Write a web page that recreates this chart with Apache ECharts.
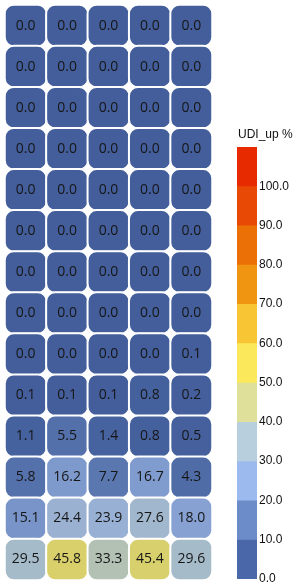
<!DOCTYPE html>
<html>
<head>
<meta charset="utf-8">
<script src="https://cdn.jsdelivr.net/npm/echarts@6/dist/echarts.min.js"></script>
<style>
html,body{margin:0;padding:0;background:#fff;}
#chart{width:298px;height:586px;}
</style>
</head>
<body>
<div id="chart"></div>
<script>
// ---- data ----
const columns = ['C1', 'C2', 'C3', 'C4', 'C5'];
const rows = ['R1','R2','R3','R4','R5','R6','R7','R8','R9','R10','R11','R12','R13','R14'];
const values = [
  [0.0, 0.0, 0.0, 0.0, 0.0],
  [0.0, 0.0, 0.0, 0.0, 0.0],
  [0.0, 0.0, 0.0, 0.0, 0.0],
  [0.0, 0.0, 0.0, 0.0, 0.0],
  [0.0, 0.0, 0.0, 0.0, 0.0],
  [0.0, 0.0, 0.0, 0.0, 0.0],
  [0.0, 0.0, 0.0, 0.0, 0.0],
  [0.0, 0.0, 0.0, 0.0, 0.0],
  [0.0, 0.0, 0.0, 0.0, 0.1],
  [0.1, 0.1, 0.1, 0.8, 0.2],
  [1.1, 5.5, 1.4, 0.8, 0.5],
  [5.8, 16.2, 7.7, 16.7, 4.3],
  [15.1, 24.4, 23.9, 27.6, 18.0],
  [29.5, 45.8, 33.3, 45.4, 29.6]
];
const legendTitle = 'UDI_up %';
const legendBounds = [0, 10, 20, 30, 40, 50, 60, 70, 80, 90, 100, 110];
const palette = ['#4a67aa', '#6b8cc8', '#9dbaee', '#b8cfdd', '#dfe09a', '#fbe85b',
                 '#f8c535', '#f09512', '#eb7005', '#e84a05', '#e82a00'];

// ---- build ----
function darken(hex, f) {
  const n = parseInt(hex.slice(1), 16);
  const r = Math.round(((n >> 16) & 255) * f);
  const g = Math.round(((n >> 8) & 255) * f);
  const b = Math.round((n & 255) * f);
  return 'rgb(' + r + ',' + g + ',' + b + ')';
}
const cellPalette = palette.map(c => darken(c, 0.91));

const heatData = [];
values.forEach((row, ri) => row.forEach((v, ci) => heatData.push([ci, ri, v])));

// colour bar: overlapping bars from 0 to each upper bound, tallest drawn first
const legendSeries = [];
for (let i = legendBounds.length - 2; i >= 0; i--) {
  legendSeries.push({
    type: 'bar',
    xAxisIndex: 1,
    yAxisIndex: 1,
    barWidth: '100%',
    barGap: '-100%',
    silent: true,
    data: [legendBounds[i + 1]],
    itemStyle: { color: palette[i] }
  });
}

const chart = echarts.init(document.getElementById('chart'), null, { renderer: 'canvas' });
chart.setOption({
  animation: false,
  backgroundColor: '#ffffff',
  title: {
    text: legendTitle,
    left: 238,
    top: 129,
    textStyle: { fontFamily: '"Liberation Sans", Arial, sans-serif', fontSize: 12, fontWeight: 'normal', color: '#111' },
    padding: 0
  },
  grid: [
    { left: 5, top: 5, width: 207, height: 575 },
    { left: 237, top: 147, width: 20, height: 432 }
  ],
  xAxis: [
    { type: 'category', data: columns, gridIndex: 0, show: false },
    { type: 'category', data: ['cb'], gridIndex: 1, show: false }
  ],
  yAxis: [
    { type: 'category', data: rows, gridIndex: 0, show: false, inverse: true },
    {
      type: 'value', gridIndex: 1, position: 'right',
      min: legendBounds[0], max: legendBounds[legendBounds.length - 1], interval: 10,
      axisLine: { show: false }, axisTick: { show: false }, splitLine: { show: false },
      axisLabel: {
        margin: 2,
        color: '#111',
        fontFamily: '"Liberation Sans", Arial, sans-serif',
        fontSize: 12,
        padding: [0, 0, 4, 0],
        formatter: v => (v >= 110 ? '' : v.toFixed(1))
      }
    }
  ],
  visualMap: {
    type: 'continuous',
    show: false,
    seriesIndex: 0,
    dimension: 2,
    min: 0,
    max: 100,
    inRange: { color: cellPalette }
  },
  series: [
    {
      type: 'heatmap',
      xAxisIndex: 0,
      yAxisIndex: 0,
      data: heatData,
      label: {
        show: true,
        color: '#161616',
        fontFamily: '"Open Sans", "Noto Sans", sans-serif',
        fontSize: 14,
        formatter: p => p.value[2].toFixed(1)
      },
      itemStyle: { borderColor: '#ffffff', borderWidth: 2, borderRadius: 9 }
    }
  ].concat(legendSeries)
});
</script>
</body>
</html>
